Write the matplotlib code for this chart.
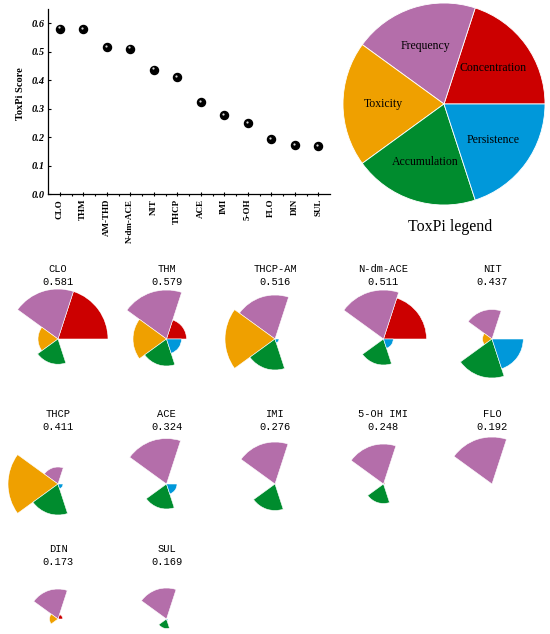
import numpy as np
import matplotlib
matplotlib.use("Agg")
import matplotlib.pyplot as plt
from matplotlib.transforms import offset_copy

# scatter data
compounds = ["CLO", "THM", "AM-THD", "N-dm-ACE", "NIT", "THCP",
             "ACE", "IMI", "5-OH", "FLO", "DIN", "SUL"]
scores = [0.581, 0.579, 0.516, 0.511, 0.437, 0.411,
          0.324, 0.276, 0.248, 0.192, 0.173, 0.169]

# ToxPi slices
slices = ["Concentration", "Frequency", "Toxicity", "Accumulation", "Persistence"]
slice_colors = ["#CC0000", "#B46EAA", "#EFA000", "#008C2E", "#0098DA"]

# small pies: names, scores and slice values (conc, freq, tox, acc, pers)
pie_names = ["CLO", "THM", "THCP-AM", "N-dm-ACE", "NIT",
             "THCP", "ACE", "IMI", "5-OH IMI", "FLO",
             "DIN", "SUL"]
pie_scores = ["0.581", "0.579", "0.516", "0.511", "0.437",
              "0.411", "0.324", "0.276", "0.248", "0.192",
              "0.173", "0.169"]
conc = [1.00, 0.40, 0.00, 0.86, 0.00, 0.00, 0.00, 0.01, 0.03, 0.02, 0.095, 0.005]
freq = [1.00, 0.98, 0.88, 0.98, 0.59, 0.34, 0.91, 0.84, 0.80, 0.94, 0.60, 0.62]
tox  = [0.40, 0.67, 1.00, 0.00, 0.19, 1.00, 0.00, 0.00, 0.00, 0.00, 0.17, 0.00]
acc  = [0.505, 0.54, 0.62, 0.52, 0.78, 0.62, 0.50, 0.53, 0.39, 0.00, 0.00, 0.19]
pers = [0.00, 0.30, 0.08, 0.195, 0.625, 0.10, 0.21, 0.00, 0.02, 0.00, 0.00, 0.03]

W, H = 550, 634
fig = plt.figure(figsize=(W / 100, H / 100), dpi=100)


def box(x0, y0, w, h):
    # pixel box (top-left origin) -> figure fraction
    return [x0 / W, 1 - (y0 + h) / H, w / W, h / H]


# ---- scatter of scores
ax = fig.add_axes(box(48, 9, 282, 185))
x = np.arange(len(compounds))
ax.plot(x, scores, "o", color="black", ms=5.8, zorder=3)
hl = offset_copy(ax.transData, fig=fig, x=-0.9, y=0.9, units="points")
ax.plot(x, scores, "o", color="white", ms=1.6, alpha=0.85, mec="none",
        transform=hl, zorder=4)
ax.set_xlim(-0.5, 11.5)
ax.set_ylim(0, 0.65)
ax.set_yticks(np.arange(0, 0.61, 0.1))
ax.set_yticklabels([f"{v:.1f}" for v in np.arange(0, 0.61, 0.1)],
                   family="Liberation Serif", weight="bold", style="italic", fontsize=7.5)
ax.set_xticks(x)
ax.set_xticklabels(compounds, rotation=90, family="Liberation Serif",
                   weight="bold", fontsize=6.5)
ax.set_xticks(x[:-1] + 0.5, minor=True)
ax.tick_params(axis="x", which="major", direction="inout", length=3, width=0.8, pad=2)
ax.tick_params(axis="x", which="minor", direction="out", length=1.5, width=0.8)
ax.tick_params(axis="y", direction="in", length=2.5, width=0.8, pad=2)
ax.set_ylabel("ToxPi Score", family="Liberation Serif", weight="bold", fontsize=7.5)
ax.yaxis.set_label_coords(-0.082, 0.54)
for s in ["top", "right"]:
    ax.spines[s].set_visible(False)
for s in ["left", "bottom"]:
    ax.spines[s].set_linewidth(0.9)

# ---- legend pie
axl = fig.add_axes(box(343, 3, 202, 202))
axl.pie([1] * 5, labels=slices, colors=slice_colors, startangle=0,
        counterclock=True, labeldistance=0.6,
        wedgeprops=dict(edgecolor="white", linewidth=0.6),
        textprops=dict(family="Liberation Serif", fontsize=8.5, ha="center", va="center"))
axl.set_xlim(-1, 1)
axl.set_ylim(-1, 1)
fig.text(450 / W, 1 - 227 / H, "ToxPi legend", family="Liberation Serif",
         fontsize=11.5, ha="center", va="center")

# ---- small ToxPi pies
theta = np.deg2rad(np.arange(36, 360, 72))
cols_x = [58, 166.5, 275, 383.5, 492]
rows_y = [339, 484, 619]
R = 50
for i, name in enumerate(pie_names):
    cx = cols_x[i % 5]
    cy = rows_y[i // 5]
    ap = fig.add_axes(box(cx - R, cy - R, 2 * R, 2 * R), projection="polar")
    vals = [conc[i], freq[i], tox[i], acc[i], pers[i]]
    ap.bar(theta, vals, width=np.deg2rad(72), color=slice_colors,
           edgecolor="white", linewidth=0.4)
    ap.set_ylim(0, 1)
    ap.axis("off")
    fig.text(cx / W, 1 - (cy - 70) / H, name, family="Liberation Mono",
             fontsize=7.5, ha="center", va="center")
    fig.text(cx / W, 1 - (cy - 57) / H, pie_scores[i], family="Liberation Mono",
             fontsize=7.5, ha="center", va="center")

fig.savefig("out.png", dpi=100)
